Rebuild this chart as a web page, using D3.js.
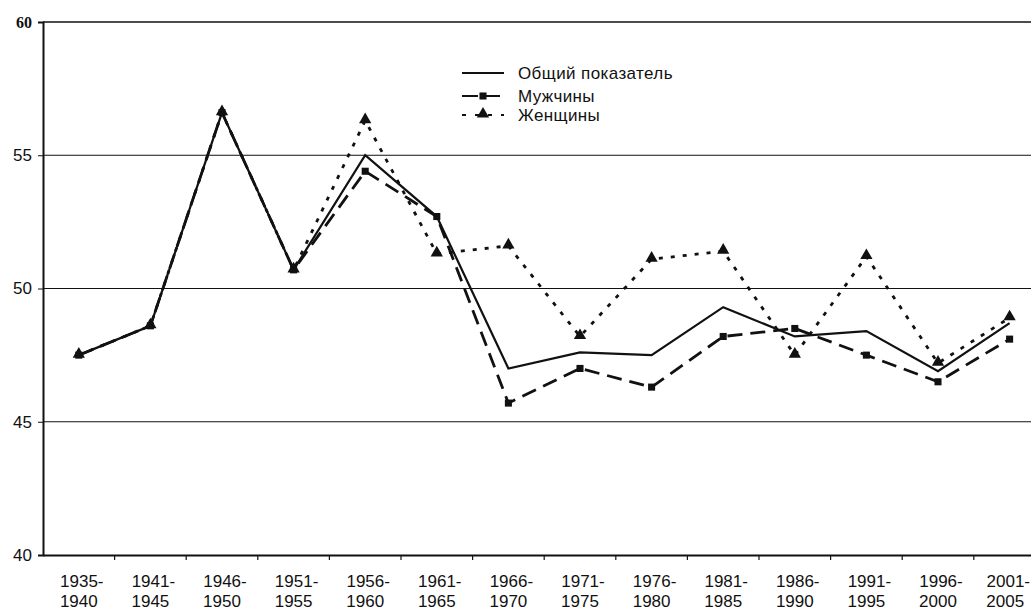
<!DOCTYPE html>
<html><head><meta charset="utf-8">
<script src="https://cdn.jsdelivr.net/npm/d3@7/dist/d3.min.js"></script>
<style>body{margin:0;background:#fff}svg{display:block;font-family:"Liberation Sans",Arial,sans-serif}</style>
</head><body><svg id="c" width="1031" height="610"></svg>
<script>
const periods = [["1935-","1940"],["1941-","1945"],["1946-","1950"],["1951-","1955"],["1956-","1960"],["1961-","1965"],["1966-","1970"],["1971-","1975"],["1976-","1980"],["1981-","1985"],["1986-","1990"],["1991-","1995"],["1996-","2000"],["2001-","2005"]];
const total = [47.5,48.6,56.6,50.7,55.0,52.7,47.0,47.6,47.5,49.3,48.2,48.4,46.9,48.7];
const men   = [47.5,48.6,56.6,50.7,54.4,52.7,45.7,47.0,46.3,48.2,48.5,47.5,46.5,48.1];
const women = [47.5,48.6,56.6,50.7,56.3,51.3,51.6,48.2,51.1,51.4,47.5,51.2,47.2,48.9];
const yTicks = [40,45,50,55,60];
const legendLabels = ["Общий показатель","Мужчины","Женщины"];

const svg = d3.select("#c");
const W = 1031;
const left = 43, bw = 71.6;
const x = d3.scaleBand().domain(periods.map((d,i)=>i)).range([left, left + bw*periods.length]).paddingInner(0).paddingOuter(0);
const y = d3.scaleLinear().domain([40,60]).range([555,22]);
const cx = i => x(i) + x.bandwidth()/2;

// gridlines
svg.append("g").selectAll("line").data(yTicks.filter(t=>t>40)).join("line")
  .attr("x1", left).attr("x2", W).attr("y1", d=>y(d)).attr("y2", d=>y(d))
  .attr("stroke", "#111").attr("stroke-width", d=>d===60?1.6:1.2);

// y axis
const ya = svg.append("g").attr("transform",`translate(${left},0)`)
  .call(d3.axisLeft(y).tickValues(yTicks).tickSize(5).tickFormat(d3.format("d")));
ya.attr("font-size",null).attr("font-family",null);
ya.select(".domain").attr("stroke","#111").attr("stroke-width",2);
ya.selectAll(".tick line").attr("stroke","#111");
ya.selectAll("text").style("font-size","17px").attr("fill","#111").style("font-family","Liberation Sans, Arial, sans-serif").attr("dx",-3);
ya.selectAll(".tick").filter(d=>d===60).select("text").style("font-family","Liberation Serif, Times New Roman, serif").style("font-weight","bold").style("font-size","16px");

// x axis
const xa = svg.append("g").attr("transform",`translate(0,${y(40)})`)
  .call(d3.axisBottom(x).tickSize(0).tickFormat(""));
xa.select(".domain").attr("stroke","#111").attr("stroke-width",2);
svg.append("g").selectAll("line").data(d3.range(1, periods.length+1)).join("line")
  .attr("x1", i=>left + i*bw).attr("x2", i=>left + i*bw)
  .attr("y1", y(40)).attr("y2", y(40)+5).attr("stroke","#111").attr("stroke-width",1.2);
const lbl = svg.append("g").selectAll("text").data(periods).join("text")
  .attr("text-anchor","middle").style("font-size","17px").attr("fill","#111");
lbl.append("tspan").attr("class","l1").attr("x",(d,i)=>cx(i)+3).attr("y",587).text(d=>d[0]);
lbl.append("tspan").attr("class","l2").attr("x",(d,i)=>cx(i)).attr("y",607).text(d=>d[1]);
// keep the last label inside the picture
lbl.each(function(){
  const t = d3.select(this);
  const bb = this.getBBox();
  const over = bb.x + bb.width - (W - 1);
  if (over > 0) t.selectAll("tspan").attr("x", function(){ return +d3.select(this).attr("x") - over; });
});

const line = d3.line().x((d,i)=>cx(i)).y(d=>y(d));
const g = svg.append("g");
g.append("path").datum(women).attr("d",line).attr("fill","none").attr("stroke","#111").attr("stroke-width",2.8).attr("stroke-dasharray","4,8");
g.append("path").datum(men).attr("d",line).attr("fill","none").attr("stroke","#111").attr("stroke-width",2.8).attr("stroke-dasharray","15,8");
g.append("path").datum(total).attr("d",line).attr("fill","none").attr("stroke","#111").attr("stroke-width",2.2);

const sq = d3.symbol().type(d3.symbolSquare).size(50);
const tri = d3.symbol().type(d3.symbolTriangle).size(65);
g.append("g").selectAll("path").data(men).join("path").attr("d",sq)
  .attr("transform",(d,i)=>`translate(${cx(i)},${y(d)})`).attr("fill","#111");
g.append("g").selectAll("path").data(women).join("path").attr("d",tri)
  .attr("transform",(d,i)=>`translate(${cx(i)},${y(d)-1})`).attr("fill","#111");

// legend
const lg = svg.append("g");
const ly = [73, 96, 115];
const dashes = [null, "16,6", "4,9"];
legendLabels.forEach((t,k)=>{
  lg.append("line").attr("x1",462).attr("x2",504).attr("y1",ly[k]).attr("y2",ly[k])
    .attr("stroke","#111").attr("stroke-width",2.2).attr("stroke-dasharray",dashes[k]);
  if(k===1) lg.append("path").attr("d",sq).attr("transform",`translate(483,${ly[k]})`).attr("fill","#111");
  if(k===2) lg.append("path").attr("d",tri).attr("transform",`translate(483,${ly[k]-1})`).attr("fill","#111");
  lg.append("text").attr("x",518).attr("y",ly[k]+6).style("font-size","17px").style("letter-spacing","0.4px").attr("fill","#111").text(t);
});
</script></body></html>
